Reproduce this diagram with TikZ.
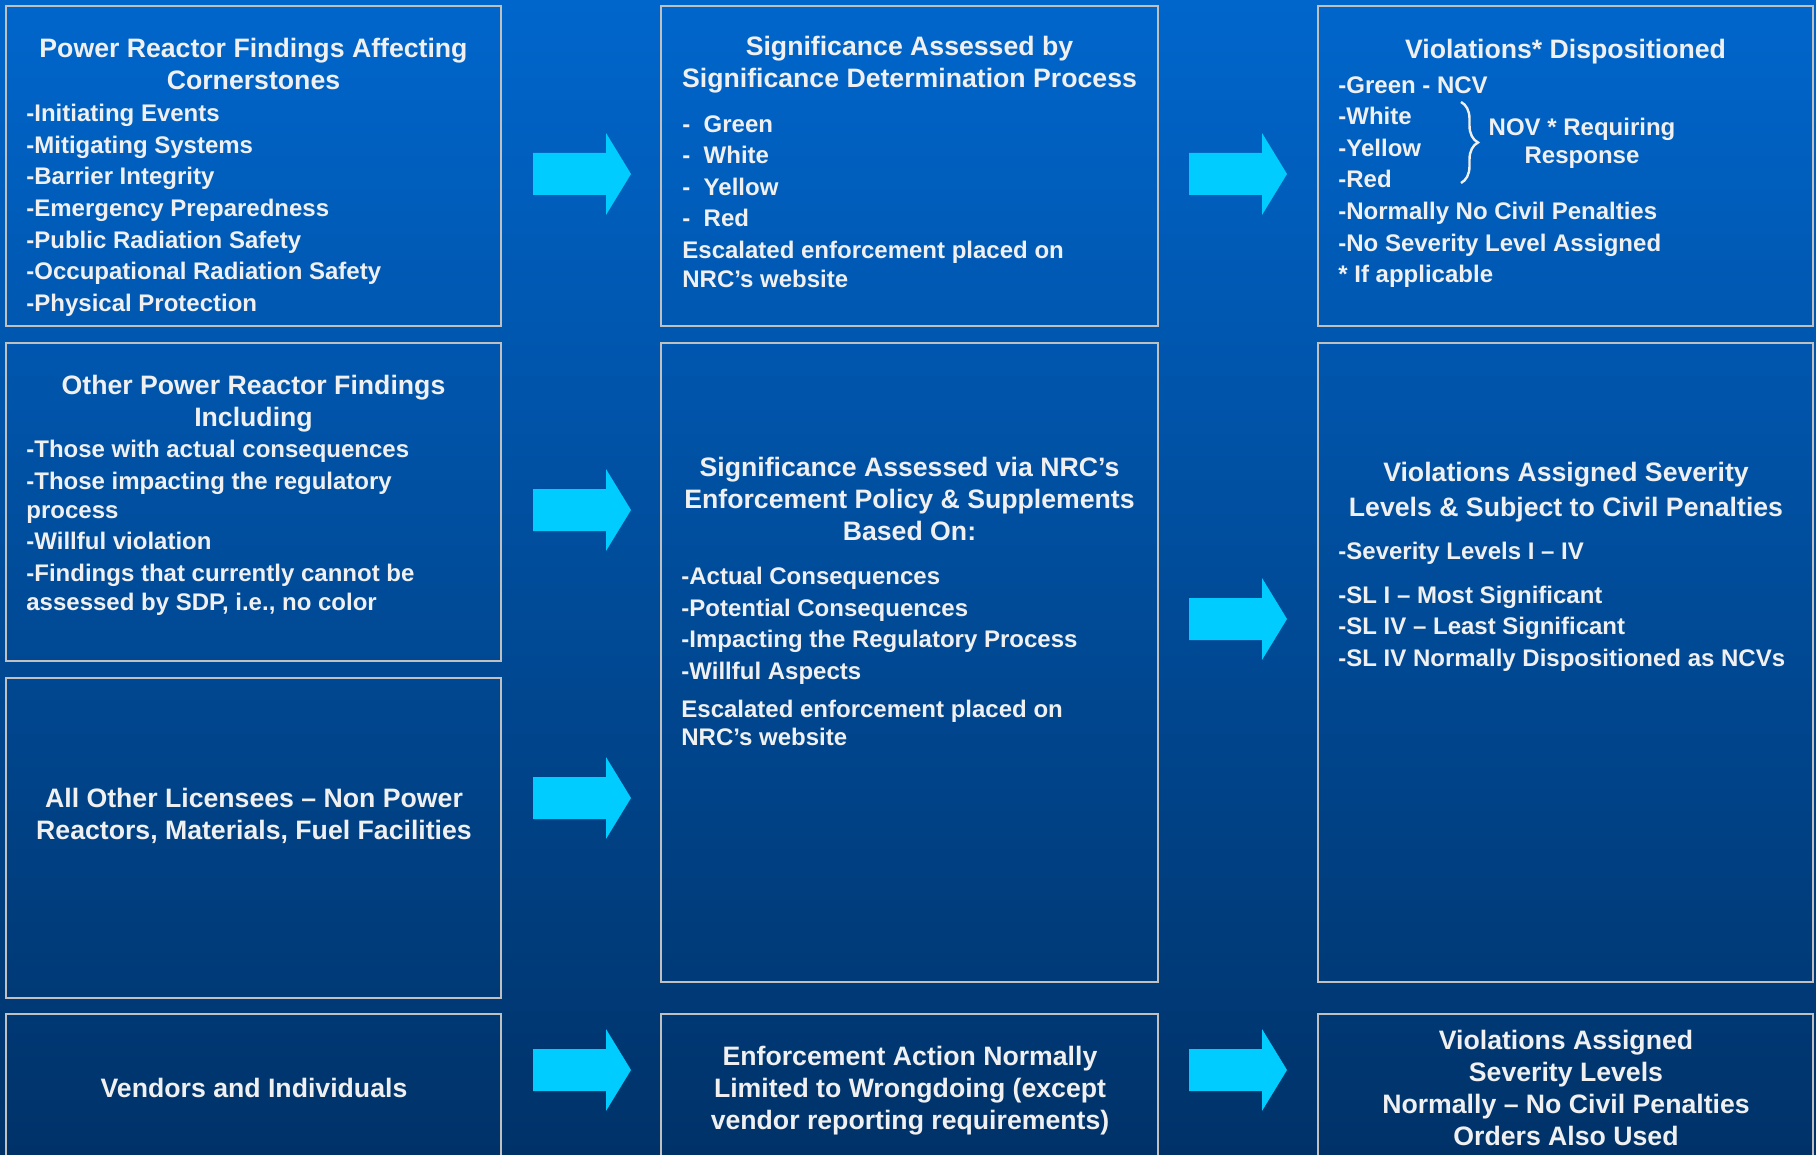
\documentclass[tikz,border=0pt]{standalone}
\usepackage{fontspec}
\setmainfont{Liberation Sans}
\usetikzlibrary{fit}
\usetikzlibrary{decorations.pathreplacing}

\definecolor{slidetop}{RGB}{0,102,204}
\definecolor{slidebottom}{RGB}{0,50,104}
\definecolor{arrowcyan}{RGB}{0,204,255}
\definecolor{framegray}{RGB}{192,192,192}
\definecolor{textwhite}{RGB}{240,240,240}

\tikzset{
  box/.style={draw=framegray, line width=1pt, inner sep=0pt},
  head/.style={text=textwhite, font=\bfseries\fontsize{13.33pt}{16pt}\selectfont,
    align=center, anchor=north, inner sep=0pt},
  items/.style={text=textwhite, font=\bfseries\fontsize{12pt}{15.8pt}\selectfont,
    align=left, anchor=north west, inner sep=0pt}
}
\newcommand{\flowarrow}[1]{\fill[arrowcyan] (#1) ++(-49,-21) -- ++(73,0) -- ++(0,-20)
  -- ++(25,41) -- ++(-25,41) -- ++(0,-20) -- ++(-73,0) -- cycle;}

\begin{document}
\begin{tikzpicture}[x=0.5pt,y=-0.5pt]
\useasboundingbox (0,0) rectangle (1816,1155);
\clip (0,0) rectangle (1816,1155);
\shade [top color=slidetop,bottom color=slidebottom] (0,0) rectangle (1816,1155);
% frames
\node [box,fit={(6,6) (501,326)}] (power) {};
\node [box,fit={(6,343) (501,661)}] (other) {};
\node [box,fit={(6,678) (501,998)}] (licensees) {};
\node [box,fit={(6,1014) (501,1180)}] (vendors) {};
\node [box,fit={(661,6) (1158,326)}] (sdp) {};
\node [box,fit={(661,343) (1158,982)}] (policy) {};
\node [box,fit={(661,1014) (1158,1180)}] (wrongdoing) {};
\node [box,fit={(1318,6) (1813,326)}] (dispositioned) {};
\node [box,fit={(1318,343) (1813,982)}] (severity) {};
\node [box,fit={(1318,1014) (1813,1180)}] (orders) {};
% left column
\node [head] (powerT) at (253.5,38) {Power Reactor Findings Affecting\\Cornerstones};
\node [items] (powerL) at (26,104) {-Initiating Events\\-Mitigating Systems\\-Barrier Integrity\\
  -Emergency Preparedness\\-Public Radiation Safety\\-Occupational Radiation Safety\\
  -Physical Protection};
\node [head] (otherT) at (253.5,375) {Other Power Reactor Findings\\Including};
\node [items] (otherL) at (26,440) {-Those with actual consequences\\
  -Those impacting the regulatory\\[-1.4pt]process\\-Willful violation\\
  -Findings that currently cannot be\\[-1.4pt]assessed by SDP, i.e., no color};
\node [head] (licenseesT) at (254,788) {All Other Licensees -- Non Power\\Reactors, Materials, Fuel Facilities};
\node [head] (vendorsT) at (254,1078) {Vendors and Individuals};
% middle column
\node [head] (sdpT) at (909.5,36) {Significance Assessed by\\Significance Determination Process};
\node [items] (sdpL) at (682,115) {-\ \ Green\\-\ \ White\\-\ \ Yellow\\-\ \ Red\\
  Escalated enforcement placed on\\[-1.4pt]NRC’s website};
\node [head] (policyT) at (909.5,457) {Significance Assessed via NRC’s\\Enforcement Policy \& Supplements\\Based On:};
\node [items] (policyL) at (681,567) {-Actual Consequences\\-Potential Consequences\\
  -Impacting the Regulatory Process\\-Willful Aspects\\[3pt]
  Escalated enforcement placed on\\[-1.4pt]NRC’s website};
\node [head] (wrongdoingT) at (910,1046) {Enforcement Action Normally\\Limited to Wrongdoing (except\\vendor reporting requirements)};
% right column
\node [head] (dispositionedT) at (1565.5,39) {Violations* Dispositioned};
\node [items] (dispositionedL) at (1338,76) {-Green - NCV\\-White\\-Yellow\\-Red\\
  -Normally No Civil Penalties\\-No Severity Level Assigned\\* If applicable};
\node [items,align=center,anchor=north] (nov) at (1582,118) {NOV * Requiring\\[-1.9pt]Response};
\draw [textwhite,line width=1.2pt,decorate,decoration={brace,amplitude=8.5pt}] (1461,102) -- (1461,183);
\node [head] (severityT) at (1566,462) {Violations Assigned Severity\\[1.5pt]Levels \& Subject to Civil Penalties};
\node [items] (severityL) at (1338,542) {-Severity Levels I -- IV\\[6pt]-SL I -- Most Significant\\
  -SL IV -- Least Significant\\-SL IV Normally Dispositioned as NCVs};
\node [head] (ordersT) at (1566,1030) {Violations Assigned\\Severity Levels\\Normally -- No Civil Penalties\\Orders Also Used};
% arrows
\coordinate (a1) at (582,174);
\coordinate (a2) at (582,510);
\coordinate (a3) at (582,798);
\coordinate (a4) at (582,1070);
\coordinate (b1) at (1238,174);
\coordinate (b2) at (1238,619);
\coordinate (b3) at (1238,1070);
\flowarrow{a1}
\flowarrow{a2}
\flowarrow{a3}
\flowarrow{a4}
\flowarrow{b1}
\flowarrow{b2}
\flowarrow{b3}
\end{tikzpicture}
\end{document}
